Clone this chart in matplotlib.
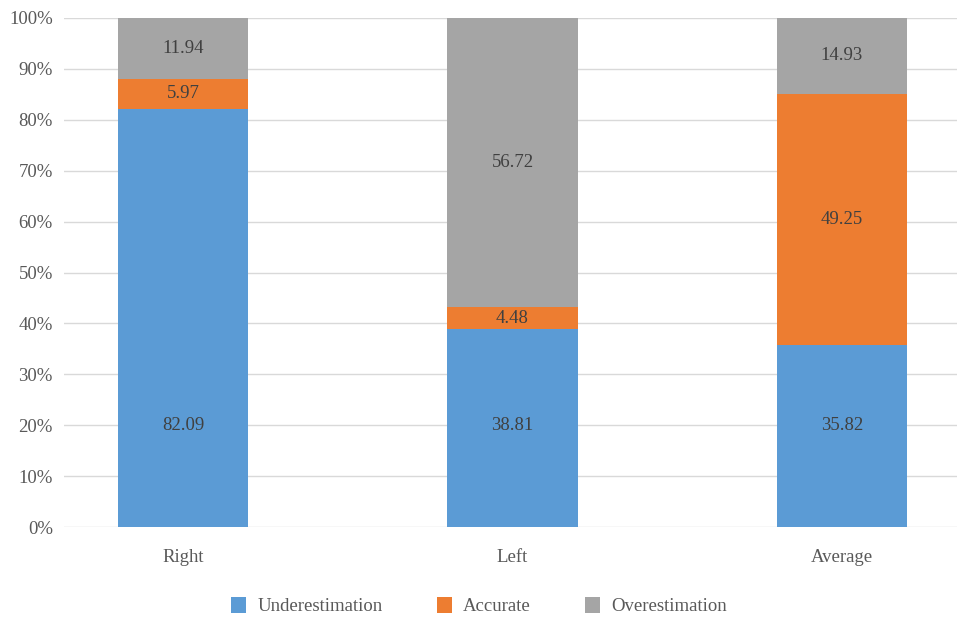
import numpy as np
import matplotlib.pyplot as plt
from matplotlib.ticker import PercentFormatter

# Data
categories = ['Right', 'Left', 'Average']
series_names = ['Underestimation', 'Accurate', 'Overestimation']
underestimation = [82.09, 38.81, 35.82]
accurate = [5.97, 4.48, 49.25]
overestimation = [11.94, 56.72, 14.93]

colors = ['#5B9BD5', '#ED7D31', '#A5A5A5']

plt.rcParams['font.family'] = ['Liberation Serif', 'DejaVu Serif']

fig = plt.figure(figsize=(9.58, 6.17), dpi=100)
ax = fig.add_axes([64 / 958, 1 - 527 / 617, (957 - 64) / 958, (527 - 18) / 617])

x = np.arange(len(categories))
bar_w = 0.395
bottom = np.zeros(len(categories))
all_series = [underestimation, accurate, overestimation]
for i, (name, vals) in enumerate(zip(series_names, all_series)):
    vals = np.array(vals)
    ax.bar(x, vals, bar_w, bottom=bottom, color=colors[i], label=name, zorder=2)
    for xi, b, v in zip(x, bottom, vals):
        # bottom series labels sit low in the bar like the original
        y_lab = 20 if i == 0 else b + v / 2
        ax.text(xi, y_lab, f'{v:.2f}', ha='center', va='center',
                fontsize=13.5, color='#404040', zorder=3)
    bottom += vals

ax.set_xlim(-0.361, 2.349)
ax.set_ylim(0, 100)
ax.set_yticks(np.arange(0, 101, 10))
ax.yaxis.set_major_formatter(PercentFormatter(decimals=0))
ax.set_xticks(x)
ax.set_xticklabels(categories)
ax.grid(axis='y', color='#D9D9D9', linewidth=1, zorder=0)
for s in ax.spines.values():
    s.set_visible(False)
ax.tick_params(axis='both', length=0, labelsize=13.5, labelcolor='#595959')
ax.tick_params(axis='x', pad=16)
ax.tick_params(axis='y', pad=8)

fig.legend(loc='center', bbox_to_anchor=(0.5, 1 - 606 / 617), ncol=3, frameon=False,
           fontsize=13.5, handlelength=0.8, handleheight=0.95, columnspacing=2.9,
           handletextpad=0.6, labelcolor='#595959')

plt.savefig('out.png', dpi=100)
